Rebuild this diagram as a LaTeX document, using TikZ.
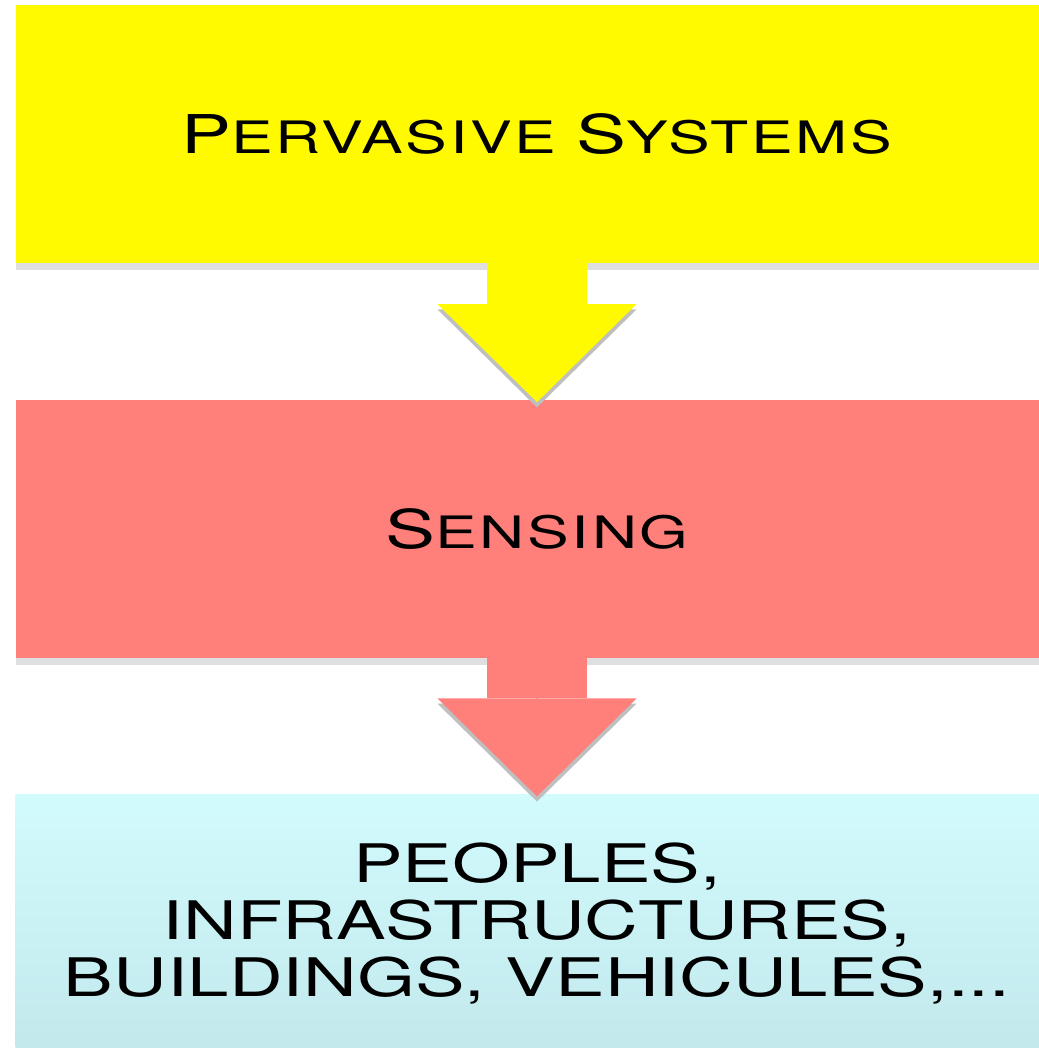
\documentclass[tikz,border=0pt]{standalone}
\usepackage{fontspec}
\usepackage{tikz}
\usetikzlibrary{positioning, arrows.meta, shadows}
\newfontfamily\plaque[FakeStretch=1.4, LetterSpace=6]{TeX Gyre Heros} % wide caps for the titles
\newfontfamily\plate[FakeStretch=1.4]{TeX Gyre Heros} % wide caps for the last box
\definecolor{psyellow}{RGB}{255,250,0}
\definecolor{sensered}{RGB}{255,127,122}
\definecolor{thingstop}{RGB}{210,251,253}
\definecolor{thingsbottom}{RGB}{194,232,236}
\newcommand{\capletter}[1]{{\fontsize{15.2pt}{18pt}\selectfont #1}} % big first letter of a small-caps word
\tikzset{
    every node/.style={text=black}, % all texts are black
    node distance=1.37cm, % gap between two boxes
}

\begin{document}
\begin{tikzpicture}[
                        x=0.01cm, y=-0.01cm,
                        box/.style={minimum width=10.42cm, minimum height=2.58cm, inner sep=0pt, outer sep=0pt,
                                    drop shadow={shadow xshift=0pt, shadow yshift=-2pt, opacity=0.25}},
                        title/.style={font=\plaque\fontsize{12.7pt}{15pt}\selectfont},
                        flow/.style={line width=1cm, shorten >=-0.02cm,
                                     -{Triangle[width=1.99cm, length=0.98cm, line width=0pt]},
                                     preaction={draw=black!25, transform canvas={yshift=-1.5pt}}},
                    ]
                    \useasboundingbox (0,0) rectangle (1039,1048);
                    \node[box, fill=psyellow, title] (ps) at (537,134) {\capletter{P}ERVASIVE \capletter{S}YSTEMS};
                    \node[box, fill=sensered, title, below=of ps] (sn) {\capletter{S}ENSING};
                    \node[box, top color=thingstop, bottom color=thingsbottom, below=1.36cm of sn, align=center,
                          font=\plate\fontsize{15.1pt}{16.3pt}\selectfont] (th)
                          {PEOPLES,\\ INFRASTRUCTURES,\\ BUILDINGS, VEHICULES,...};
                    \draw[flow, psyellow] (ps) -- (sn);
                    \draw[flow, sensered] (sn) -- (th);
                \end{tikzpicture}
\end{document}
